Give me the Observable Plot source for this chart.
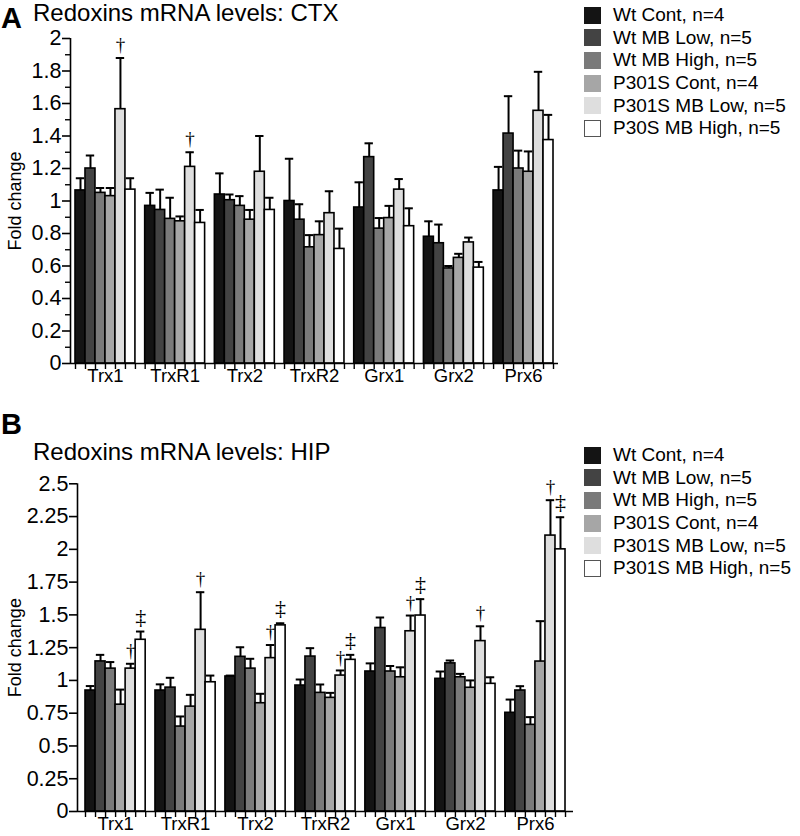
<!DOCTYPE html>
<html>
<head>
<meta charset="utf-8">
<script src="https://cdn.jsdelivr.net/npm/d3@7"></script>
<script src="https://cdn.jsdelivr.net/npm/@observablehq/plot@0.6"></script>
<style>
  html, body { margin: 0; padding: 0; background: #fff; }
  #wrap { position: relative; width: 800px; height: 836px; font-family: "Liberation Sans", Arial, sans-serif; color: #000; overflow: hidden; }
  .abs { position: absolute; }
  .panel-letter { font-weight: bold; font-size: 29px; line-height: 1.15; }
  .title { font-size: 24px; line-height: 1.15; white-space: nowrap; }
  .legend { font-size: 19px; }
  .legend .row { display: flex; align-items: center; height: 22.6px; white-space: nowrap; }
  .legend .sw { width: 17px; height: 17px; box-sizing: border-box; margin-right: 12px; }
</style>
</head>
<body>
<div id="wrap">
  <div class="abs" id="chartA" style="left:0; top:0;"></div>
  <div class="abs panel-letter" style="left:1px; top:2px;">A</div>
  <div class="abs title" style="left:33px; top:-1px;">Redoxins mRNA levels: CTX</div>
  <div class="abs legend" id="legA" style="left:584px; top:4px;"></div>

  <div class="abs" id="chartB" style="left:0; top:440px;"></div>
  <div class="abs panel-letter" style="left:1px; top:408px;">B</div>
  <div class="abs title" style="left:33px; top:438px;">Redoxins mRNA levels: HIP</div>
  <div class="abs legend" id="legB" style="left:584px; top:444px;"></div>
</div>
<script>
// ---------- data ----------
const genes = ["Trx1", "TrxR1", "Trx2", "TrxR2", "Grx1", "Grx2", "Prx6"];
const groupsA = ["Wt Cont, n=4", "Wt MB Low, n=5", "Wt MB High, n=5", "P301S Cont, n=4", "P301S MB Low, n=5", "P30S MB High, n=5"];
const groupsB = ["Wt Cont, n=4", "Wt MB Low, n=5", "Wt MB High, n=5", "P301S Cont, n=4", "P301S MB Low, n=5", "P301S MB High, n=5"];
const groupFills = ["#141414", "#434343", "#7a7a7a", "#a6a6a6", "#dedede", "#ffffff"];

// CTX: mean fold change per gene (rows) x group (columns)
const ctxMean = [
  [1.065, 1.20, 1.05, 1.03, 1.565, 1.07],
  [0.97, 0.945, 0.89, 0.875, 1.21, 0.865],
  [1.04, 1.005, 0.97, 0.885, 1.18, 0.945],
  [1.00, 0.885, 0.715, 0.79, 0.925, 0.705],
  [0.96, 1.27, 0.83, 0.895, 1.07, 0.845],
  [0.78, 0.74, 0.585, 0.65, 0.745, 0.59],
  [1.065, 1.415, 1.20, 1.18, 1.555, 1.375]
];
const ctxSem = [
  [0.075, 0.08, 0.03, 0.05, 0.315, 0.07],
  [0.08, 0.125, 0.13, 0.03, 0.09, 0.08],
  [0.13, 0.035, 0.06, 0.06, 0.22, 0.075],
  [0.26, 0.095, 0.075, 0.085, 0.135, 0.125],
  [0.155, 0.085, 0.065, 0.075, 0.065, 0.11],
  [0.095, 0.115, 0.015, 0.025, 0.03, 0.035],
  [0.145, 0.23, 0.11, 0.125, 0.24, 0.155]
];
const ctxSig = [
  ["", "", "", "", "†", ""],
  ["", "", "", "", "†", ""],
  ["", "", "", "", "", ""],
  ["", "", "", "", "", ""],
  ["", "", "", "", "", ""],
  ["", "", "", "", "", ""],
  ["", "", "", "", "", ""]
];

// HIP
const hipMean = [
  [0.923, 1.145, 1.09, 0.815, 1.09, 1.31],
  [0.923, 0.945, 0.648, 0.80, 1.386, 0.986],
  [1.03, 1.18, 1.09, 0.826, 1.17, 1.42],
  [0.961, 1.182, 0.905, 0.867, 1.037, 1.157],
  [1.068, 1.40, 1.068, 1.024, 1.375, 1.495],
  [1.012, 1.13, 1.024, 0.944, 1.30, 0.974],
  [0.753, 0.923, 0.661, 1.144, 2.105, 2.00]
];
const hipSem = [
  [0.034, 0.05, 0.05, 0.115, 0.037, 0.063],
  [0.047, 0.075, 0.077, 0.09, 0.287, 0.051],
  [0.007, 0.073, 0.075, 0.072, 0.10, 0.016],
  [0.046, 0.064, 0.064, 0.038, 0.039, 0.038],
  [0.062, 0.08, 0.042, 0.076, 0.12, 0.125],
  [0.056, 0.022, 0.026, 0.056, 0.113, 0.05],
  [0.101, 0.033, 0.059, 0.308, 0.27, 0.245]
];
const hipSig = [
  ["", "", "", "", "†", "‡"],
  ["", "", "", "", "†", ""],
  ["", "", "", "", "†", "‡"],
  ["", "", "", "", "†", "‡"],
  ["", "", "", "", "†", "‡"],
  ["", "", "", "", "†", ""],
  ["", "", "", "", "†", "‡"]
];

const ctxTicks = [0, 0.2, 0.4, 0.6, 0.8, 1, 1.2, 1.4, 1.6, 1.8, 2];
const ctxMinorTicks = [0.1, 0.3, 0.5, 0.7, 0.9, 1.1, 1.3, 1.5, 1.7, 1.9];
const hipTicks = [0, 0.25, 0.5, 0.75, 1, 1.25, 1.5, 1.75, 2, 2.25, 2.5];

// ---------- layout helpers ----------
const GROUP_W = 0.86;              // fraction of a category step filled by bars
const BAR_W = GROUP_W / 6;
const CAP = BAR_W * 0.42;
const FONT = "Liberation Sans, Arial, sans-serif";
const SERIF = "Liberation Serif, DejaVu Serif, serif";

function rows(mean, sem, sig, groups) {
  const out = [];
  mean.forEach((vals, gi) => vals.forEach((v, si) => {
    out.push({
      gene: genes[gi], group: groups[si], si,
      x1: gi + si * BAR_W, x2: gi + (si + 1) * BAR_W, xc: gi + (si + 0.5) * BAR_W,
      mean: v, top: v + sem[gi][si], sig: sig[gi][si]
    });
  }));
  return out;
}

function drawPanel({data, groups, yDomain, ticks, minor, width, height, marginLeft, marginRight, marginTop, marginBottom, padOuter, labelOffset}) {
  const xDomain = [-padOuter, genes.length - 1 + GROUP_W + padOuter];
  const bounds = [];
  genes.forEach((g, gi) => { for (let k = 0; k <= 6; k++) bounds.push(gi + k * BAR_W); });
  const centers = genes.map((g, gi) => gi + GROUP_W / 2);
  const marks = [
    Plot.rectY(data, {x1: "x1", x2: "x2", y1: 0, y2: "mean", fill: "group", stroke: "#000", strokeWidth: 1.6}),
    Plot.ruleX(data, {x: "xc", y1: "mean", y2: "top", stroke: "#000", strokeWidth: 2}),
    Plot.ruleY(data, {y: "top", x1: d => d.xc - CAP, x2: d => d.xc + CAP, stroke: "#000", strokeWidth: 2}),
    Plot.text(data.filter(d => d.sig === "†"), {x: "xc", y: "top", text: "sig", dy: -13,
      fontSize: 19, fontFamily: SERIF, fill: "#000", stroke: "none"}),
    Plot.text(data.filter(d => d.sig === "‡"), {x: "xc", y: "top", text: "sig", dy: -15,
      fontSize: 22, fontFamily: SERIF, fill: "#000", stroke: "none"}),
    Plot.ruleY([0], {stroke: "#000", strokeWidth: 1.6}),
    Plot.ruleX([xDomain[0]], {stroke: "#000", strokeWidth: 1.6}),
    Plot.axisX({ticks: bounds, tickSize: 6, text: null, label: null, strokeWidth: 1.4}),
    Plot.axisX({ticks: centers, tickSize: 0, tickPadding: 5, label: null, fontSize: 18.5, fontFamily: FONT, fill: "#000",
      tickFormat: d => genes[Math.round(d - GROUP_W / 2)]}),
    Plot.axisY({ticks, tickSize: 8, tickPadding: 1, strokeWidth: 1.6, fontSize: 21.5, fontFamily: FONT, fill: "#000",
      tickFormat: d => String(d), label: null}),
    Plot.text(["Fold change"], {frameAnchor: "left", dx: -labelOffset, rotate: -90, fontSize: 18, fontFamily: FONT, fill: "#000", textAnchor: "middle"})
  ];
  if (minor) marks.push(Plot.axisY({ticks: minor, tickSize: 5, text: null, label: null, strokeWidth: 1.4}));
  return Plot.plot({
    width, height, marginLeft, marginRight, marginTop, marginBottom,
    style: {fontFamily: FONT, fontSize: "18px", color: "#000", background: "transparent", overflow: "visible"},
    x: {domain: xDomain, axis: null},
    y: {domain: yDomain, axis: null},
    color: {domain: groups, range: groupFills},
    marks
  });
}

function drawLegend(el, groups) {
  groups.forEach((g, i) => {
    const row = document.createElement("div");
    row.className = "row";
    const sw = document.createElement("div");
    sw.className = "sw";
    sw.style.background = groupFills[i];
    if (i === groups.length - 1) sw.style.border = "1.3px solid #555";
    const t = document.createElement("span");
    t.textContent = g;
    row.appendChild(sw); row.appendChild(t);
    el.appendChild(row);
  });
}

// Panel A (CTX): y 0 -> 363px, 2 -> 38px; axis at x=70
document.getElementById("chartA").appendChild(drawPanel({
  data: rows(ctxMean, ctxSem, ctxSig, groupsA), groups: groupsA,
  yDomain: [0, 2], ticks: ctxTicks, minor: ctxMinorTicks,
  width: 575, height: 400, marginLeft: 70, marginRight: 575 - 558, marginTop: 38, marginBottom: 37,
  padOuter: 5 / 69.7, labelOffset: 55
}));
drawLegend(document.getElementById("legA"), groupsA);

// Panel B (HIP): svg top at 440; y 0 -> 811px, 2.5 -> 483px; axis at x=77
document.getElementById("chartB").appendChild(drawPanel({
  data: rows(hipMean, hipSem, hipSig, groupsB), groups: groupsB,
  yDomain: [0, 2.5], ticks: hipTicks, minor: null,
  width: 580, height: 396, marginLeft: 77, marginRight: 580 - 573, marginTop: 43.3, marginBottom: 25,
  padOuter: 8 / 70, labelOffset: 62
}));
drawLegend(document.getElementById("legB"), groupsB);
</script>
</body>
</html>
